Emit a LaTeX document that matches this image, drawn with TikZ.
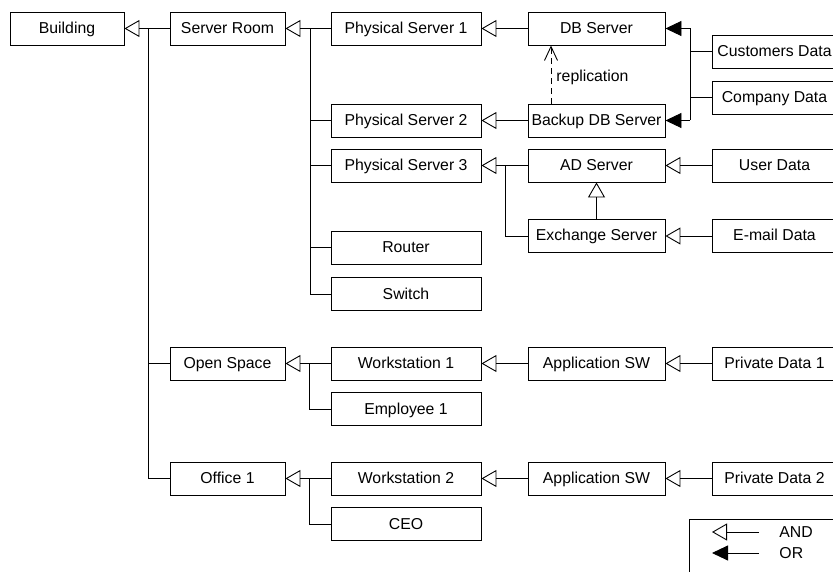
\documentclass[tikz,border=0pt]{standalone}
\usepackage{fontspec}
\setmainfont{Liberation Sans}
\usetikzlibrary{arrows.meta}

\begin{document}
\begin{tikzpicture}[x=1pt,y=-1pt,line width=0.9pt,
  box/.style={draw,minimum height=33pt,inner sep=0pt,text height=13pt,text depth=3pt,
    font=\fontsize{15.8}{19}\selectfont},
  andarr/.style={-{Triangle[open,length=15pt,width=17pt]}},
  orarr/.style={-{Triangle[length=16pt,width=15pt]}}]
\clip (0,0) rectangle (833,572);
% left columns
\node[box,minimum width=114pt] (bld) at (67,28.5) {Building};
\node[box,minimum width=115pt] (room) at (227.5,28.5) {Server Room};
\node[box,minimum width=115pt] (open) at (227.5,363.5) {Open Space};
\node[box,minimum width=115pt] (office) at (227.5,478.5) {Office 1};
% physical column
\node[box,minimum width=150pt] (ps1) at (406,28.5) {Physical Server 1};
\node[box,minimum width=150pt] (ps2) at (406,120.5) {Physical Server 2};
\node[box,minimum width=150pt] (ps3) at (406,165.5) {Physical Server 3};
\node[box,minimum width=150pt] (router) at (406,247.5) {Router};
\node[box,minimum width=150pt] (switch) at (406,294) {Switch};
\node[box,minimum width=150pt] (ws1) at (406,363.5) {Workstation 1};
\node[box,minimum width=150pt] (emp1) at (406,409) {Employee 1};
\node[box,minimum width=150pt] (ws2) at (406,478.5) {Workstation 2};
\node[box,minimum width=150pt] (ceo) at (406,524) {CEO};
% server column
\node[box,minimum width=137pt] (db) at (596.5,28.5) {DB Server};
\node[box,minimum width=137pt] (bkp) at (596.5,120.5) {Backup DB Server};
\node[box,minimum width=137pt] (ad) at (596.5,165.5) {AD Server};
\node[box,minimum width=137pt] (exch) at (596.5,236) {Exchange Server};
\node[box,minimum width=137pt] (app1) at (596.5,363.5) {Application SW};
\node[box,minimum width=137pt] (app2) at (596.5,478.5) {Application SW};
% data column
\node[box,minimum width=125pt] (cust) at (774.5,51.5) {Customers Data};
\node[box,minimum width=125pt] (comp) at (774.5,97.5) {Company Data};
\node[box,minimum width=125pt] (user) at (774.5,165.5) {User Data};
\node[box,minimum width=125pt] (mail) at (774.5,236) {E-mail Data};
\node[box,minimum width=125pt] (priv1) at (774.5,363.5) {Private Data 1};
\node[box,minimum width=125pt] (priv2) at (774.5,478.5) {Private Data 2};

% trunks
\coordinate (tb) at (148,28.5);
\coordinate (tr) at (310,28.5);
\coordinate (tp) at (505,165.5);
\coordinate (tdb) at (690,28.5);
\coordinate (tbk) at (690,120.5);
\coordinate (to) at (309,363.5);
\coordinate (tf) at (309,478.5);

% building
\draw[andarr] (room.west) -- (bld.east);
\draw (tb) |- (open.west);
\draw (tb) |- (office.west);
% server room
\draw[andarr] (ps1.west) -- (room.east);
\draw (tr) |- (ps2.west);
\draw (tr) |- (ps3.west);
\draw (tr) |- (router.west);
\draw (tr) |- (switch.west);
\draw[andarr] (db.west) -- (ps1.east);
\draw[andarr] (bkp.west) -- (ps2.east);
\draw[andarr] (ad.west) -- (ps3.east);
\draw (tp) |- (exch.west);
\draw[andarr] (exch.north) -- (ad.south);
\draw[andarr] (user.west) -- (ad.east);
\draw[andarr] (mail.west) -- (exch.east);
% db data (or)
\draw[orarr] (tdb) -- (db.east);
\draw[orarr] (tbk) -- (bkp.east);
\draw (tdb) -- (tbk);
\draw (cust.west) -- (cust.west -| tdb);
\draw (comp.west) -- (comp.west -| tdb);
\draw[dash pattern=on 6pt off 4pt,-{Straight Barb[length=14pt,width=13pt]}]
  ([xshift=-45.5pt]bkp.north) -- ([xshift=-45.5pt]db.south)
  node[pos=0.45,right=5pt,inner sep=0pt,font=\fontsize{15.8}{19}\selectfont] (repl) {replication};
% open space / office
\draw[andarr] (ws1.west) -- (open.east);
\draw (to) |- (emp1.west);
\draw[andarr] (app1.west) -- (ws1.east);
\draw[andarr] (priv1.west) -- (app1.east);
\draw[andarr] (ws2.west) -- (office.east);
\draw (tf) |- (ceo.west);
\draw[andarr] (app2.west) -- (ws2.east);
\draw[andarr] (priv2.west) -- (app2.east);

% legend
\draw (689,519) rectangle (845,590);
\coordinate (la1) at (759,532);
\coordinate (la2) at (712,532);
\coordinate (lo1) at (759,553);
\coordinate (lo2) at (712,553);
\draw[andarr] (la1) -- (la2);
\draw[orarr] (lo1) -- (lo2);
\node[anchor=west,inner sep=0pt,font=\fontsize{15.8}{19}\selectfont] (andtxt) at (779,532) {AND};
\node[anchor=west,inner sep=0pt,font=\fontsize{15.8}{19}\selectfont] (ortxt) at (779,553) {OR};
\end{tikzpicture}
\end{document}
